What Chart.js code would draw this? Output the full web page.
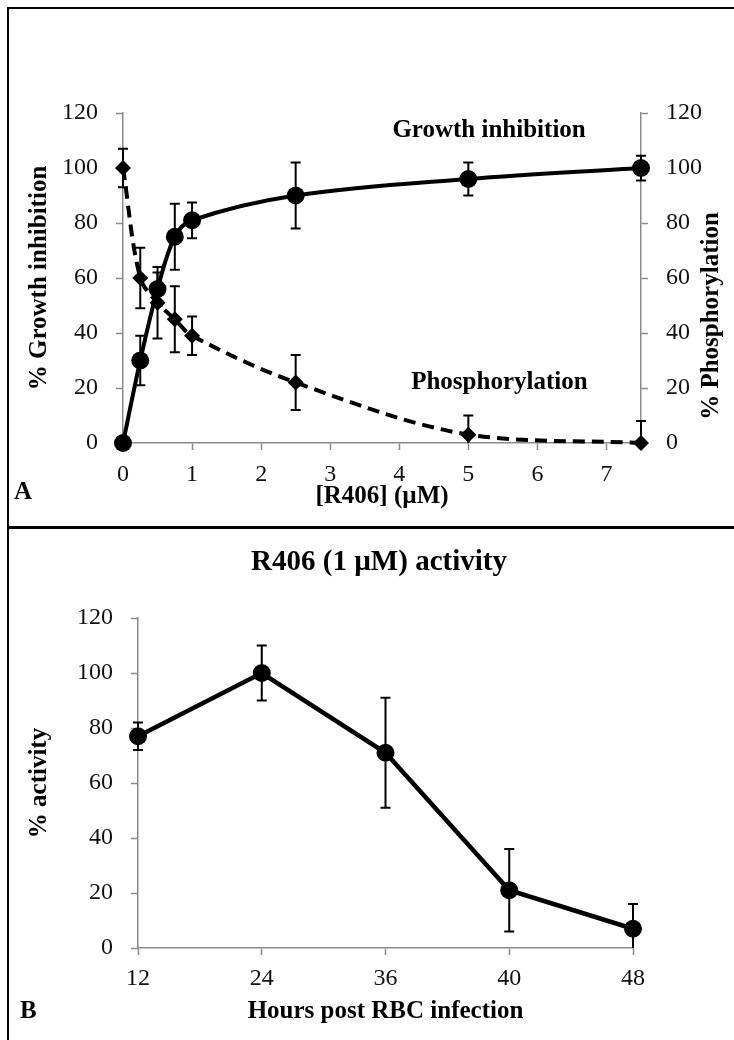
<!DOCTYPE html>
<html>
<head>
<meta charset="utf-8">
<script src="https://cdn.jsdelivr.net/npm/chart.js@4.4.0/dist/chart.umd.min.js"></script>
<style>
  body { margin: 0; background: #fff; width: 734px; height: 1040px; overflow: hidden; position: relative; }
  #moldura { position: absolute; left: 7px; top: 7px; width: 760px; height: 1060px; border-left: 2px solid #000; border-top: 2px solid #000; }
  #divisoria { position: absolute; left: 7px; top: 526px; width: 727px; height: 3px; background: #000; }
  canvas { position: absolute; left: 0; }
  #graficoA { top: 0; }
  #graficoB { top: 529px; }
</style>
</head>
<body>
<div id="moldura"></div>
<div id="divisoria"></div>
<canvas id="graficoA" width="734" height="526"></canvas>
<canvas id="graficoB" width="734" height="511"></canvas>
<script>
// Painel A - concentração de R406
const concentracoes = [0, 0.25, 0.5, 0.75, 1, 2.5, 5, 7.5];
const inibicaoCrescimento = [0, 30, 56, 75, 81, 90, 96, 100];
const erroInibicao = [0, 9, 6, 12, 6.5, 12, 6, 4.5];
const fosforilacao = [100, 60, 51, 45, 39, 22, 3, 0];
const erroFosforilacao = [7, 11, 13, 12, 7, 10, 7, 8];
const ticksX = [0, 1, 2, 3, 4, 5, 6, 7];

// Painel B - atividade por hora
const horas = ['12', '24', '36', '40', '48'];
const atividade = [77, 100, 71, 21, 7];
const erroAtividade = [5, 10, 20, 15, 9];

const ticksY = [0, 20, 40, 60, 80, 100, 120];

const familia = "'Liberation Serif', 'Times New Roman', serif";
Chart.defaults.font.family = familia;
Chart.defaults.color = '#111';

const corEixo = '#8a8a8a';

// Barras de erro desenhadas pelas escalas do próprio gráfico
const pluginBarrasErro = {
  id: 'barrasErro',
  afterDatasetsDraw(chart) {
    const ctx = chart.ctx;
    const area = chart.chartArea;
    ctx.save();
    ctx.beginPath();
    ctx.rect(area.left - 20, area.top - 30, area.right - area.left + 40, area.bottom - area.top + 30);
    ctx.clip();
    ctx.strokeStyle = '#000';
    ctx.lineWidth = 2;
    chart.data.datasets.forEach((ds, i) => {
      if (!ds.erros) return;
      const meta = chart.getDatasetMeta(i);
      const escalaY = chart.scales[meta.yAxisID];
      meta.data.forEach((ponto, j) => {
        const erro = ds.erros[j];
        if (!erro) return;
        const valor = typeof ds.data[j] === 'object' ? ds.data[j].y : ds.data[j];
        const yTopo = escalaY.getPixelForValue(valor + erro);
        const yBase = escalaY.getPixelForValue(valor - erro);
        const x = ponto.x;
        ctx.beginPath();
        ctx.moveTo(x, yTopo);
        ctx.lineTo(x, yBase);
        ctx.moveTo(x - 5, yTopo);
        ctx.lineTo(x + 5, yTopo);
        ctx.moveTo(x - 5, yBase);
        ctx.lineTo(x + 5, yBase);
        ctx.stroke();
      });
    });
    ctx.restore();
  }
};

function eixoY(posicao, largura, titulo) {
  return {
    position: posicao,
    min: 0,
    max: 120,
    afterBuildTicks: (escala) => { escala.ticks = ticksY.map(v => ({ value: v })); },
    ticks: { color: '#111', padding: 18, font: { size: 24 } },
    grid: { drawOnChartArea: false, drawTicks: true, tickLength: 7, tickColor: corEixo, tickWidth: 1.5 },
    border: { color: corEixo, width: 1.5 },
    title: titulo ? {
      display: true,
      text: titulo,
      color: '#000',
      font: { size: 25, weight: 'bold' },
      padding: { top: 25, bottom: 0 }
    } : { display: false },
    afterFit(escala) { escala.width = largura; }
  };
}

function dadosXY(valores) {
  return concentracoes.map((c, i) => ({ x: c, y: valores[i] }));
}

const pluginTextosA = {
  id: 'textosA',
  afterDraw(chart) {
    const ctx = chart.ctx;
    const x = chart.scales.x;
    const y = chart.scales.y;
    ctx.save();
    ctx.fillStyle = '#000';
    ctx.font = 'bold 25px ' + familia;
    ctx.textAlign = 'center';
    ctx.textBaseline = 'middle';
    ctx.fillText('Growth inhibition', x.getPixelForValue(5.3), y.getPixelForValue(113.5));
    ctx.fillText('Phosphorylation', x.getPixelForValue(5.45), y.getPixelForValue(22));
    ctx.textAlign = 'left';
    ctx.fillText('A', 14, 493);
    // título do eixo direito, lido de baixo para cima
    ctx.translate(712, 316);
    ctx.rotate(-Math.PI / 2);
    ctx.textAlign = 'center';
    ctx.fillText('% Phosphorylation', 0, 0);
    ctx.restore();
  }
};

new Chart(document.getElementById('graficoA'), {
  type: 'line',
  data: {
    datasets: [{
      label: 'Growth inhibition',
      data: dadosXY(inibicaoCrescimento),
      erros: erroInibicao,
      borderColor: '#000',
      borderWidth: 4,
      tension: 0.35,
      pointStyle: 'circle',
      pointRadius: 9,
      pointBackgroundColor: '#000',
      pointBorderWidth: 0,
      yAxisID: 'y'
    }, {
      label: 'Phosphorylation',
      data: dadosXY(fosforilacao),
      erros: erroFosforilacao,
      borderColor: '#000',
      borderWidth: 4,
      borderDash: [12, 7],
      tension: 0.35,
      pointStyle: 'rectRot',
      pointRadius: 8,
      pointBackgroundColor: '#000',
      pointBorderWidth: 0,
      yAxisID: 'y2'
    }]
  },
  options: {
    responsive: false,
    animation: false,
    clip: false,
    layout: { padding: { top: 113, left: 0, right: 0, bottom: 0 } },
    plugins: { legend: { display: false }, tooltip: { enabled: false } },
    scales: {
      x: {
        type: 'linear',
        min: 0,
        max: 7.5,
        afterBuildTicks: (escala) => { escala.ticks = ticksX.map(v => ({ value: v })); },
        ticks: { color: '#111', padding: 10, font: { size: 24 } },
        grid: { drawOnChartArea: false, drawTicks: true, tickLength: 7, tickColor: corEixo, tickWidth: 1.5 },
        border: { color: corEixo, width: 1.5 },
        title: {
          display: true,
          text: '[R406] (µM)',
          color: '#000',
          font: { size: 25, weight: 'bold' },
          padding: { top: 0, bottom: 14 }
        },
        afterFit(escala) { escala.height = 83; }
      },
      y: eixoY('left', 123, '% Growth inhibition'),
      y2: eixoY('right', 93, null)
    }
  },
  plugins: [pluginBarrasErro, pluginTextosA]
});

const pluginTextosB = {
  id: 'textosB',
  afterDraw(chart) {
    const ctx = chart.ctx;
    ctx.save();
    ctx.fillStyle = '#000';
    ctx.textBaseline = 'middle';
    ctx.font = 'bold 29px ' + familia;
    ctx.textAlign = 'center';
    ctx.fillText('R406 (1 µM) activity', 379, 34);
    ctx.font = 'bold 25px ' + familia;
    ctx.textAlign = 'left';
    ctx.fillText('B', 20, 483);
    ctx.restore();
  }
};

new Chart(document.getElementById('graficoB'), {
  type: 'line',
  data: {
    labels: horas,
    datasets: [{
      label: 'activity',
      data: atividade,
      erros: erroAtividade,
      borderColor: '#000',
      borderWidth: 4.5,
      tension: 0,
      pointStyle: 'circle',
      pointRadius: 9,
      pointBackgroundColor: '#000',
      pointBorderWidth: 0
    }]
  },
  options: {
    responsive: false,
    animation: false,
    clip: false,
    layout: { padding: { top: 89, left: 0, right: 101, bottom: 0 } },
    plugins: { legend: { display: false }, tooltip: { enabled: false } },
    scales: {
      x: {
        type: 'category',
        offset: false,
        ticks: { color: '#111', padding: 9, font: { size: 24 } },
        grid: { offset: false, drawOnChartArea: false, drawTicks: true, tickLength: 7, tickColor: corEixo, tickWidth: 1.5 },
        border: { color: corEixo, width: 1.5 },
        title: {
          display: true,
          text: 'Hours post RBC infection',
          color: '#000',
          font: { size: 25, weight: 'bold' },
          padding: { top: 0, bottom: 13 }
        },
        afterFit(escala) { escala.height = 92; }
      },
      y: eixoY('left', 138, '% activity')
    }
  },
  plugins: [pluginBarrasErro, pluginTextosB]
});
</script>
</body>
</html>
